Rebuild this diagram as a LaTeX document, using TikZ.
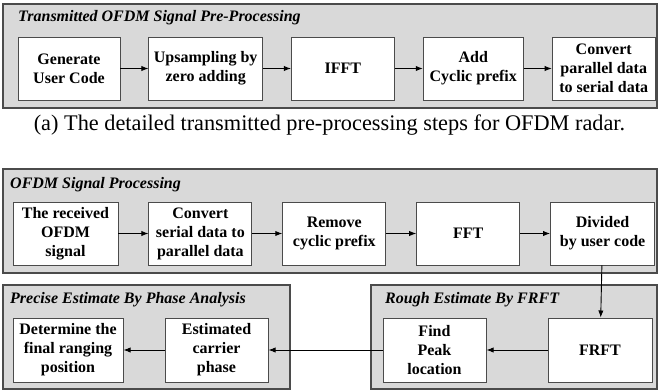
\documentclass[tikz,border=0pt]{standalone}
\usepackage{fontspec}
\setmainfont{Liberation Serif}
\usetikzlibrary{arrows.meta,positioning}
\definecolor{panelgray}{RGB}{217,217,217}
\definecolor{edgegray}{RGB}{75,75,75}

\begin{document}
\begin{tikzpicture}[x=1pt,y=-1pt,>=Latex,
  every node/.style={font=\fontsize{16}{19}\selectfont\bfseries},
  box/.style={draw=edgegray,line width=0.9pt,fill=white,align=center,
    minimum width=103pt,minimum height=63pt,inner xsep=5pt,inner ysep=2pt},
  panel/.style={draw=edgegray,line width=1.4pt,fill=panelgray},
  paneltitle/.style={anchor=west,inner sep=0pt,font=\fontsize{16}{19}\selectfont\bfseries\itshape},
  flow/.style={->,line width=0.9pt}]
\useasboundingbox (0,0) rectangle (659,391);

% panels
\path[panel] (3,4) rectangle (657,108);
\path[panel] (3,169) rectangle (657,273);
\path[panel] (3,285) rectangle (290,389);
\path[panel] (371,285) rectangle (657,389);

\node[paneltitle] (ttx) at (18,18) {Transmitted OFDM Signal Pre-Processing};
\node[paneltitle] (trx) at (10,185) {OFDM Signal Processing};
\node[paneltitle] (tpa) at (10,300) {Precise Estimate By Phase Analysis};
\node[paneltitle] (tfr) at (385,300) {Rough Estimate By FRFT};

% transmitter chain
\node[box,minimum width=102pt] (gen) at (69,68.5) {Generate\\User Code};
\node[box,right=28pt of gen] (ups) {Upsampling by\\zero adding};
\node[box,right=28pt of ups] (ifft) {IFFT};
\node[box,right=28pt of ifft,minimum width=100pt] (cp) {Add\\Cyclic prefix};
\node[box,right=28pt of cp] (ps) {Convert\\parallel data\\to serial data};
\draw[flow] (gen) -- (ups);
\draw[flow] (ups) -- (ifft);
\draw[flow] (ifft) -- (cp);
\draw[flow] (cp) -- (ps);

\node[font=\fontsize{22.3}{25}\selectfont\normalfont] (cap) at (329.5,125.5)
  {(a) The detailed transmitted pre-processing steps for OFDM radar.};

% receiver chain
\node[box,minimum width=105pt] (rec) at (65.5,233.5) {The received\\OFDM\\signal};
\node[box,right=30pt of rec] (sp) {Convert\\serial data to\\parallel data};
\node[box,right=30pt of sp] (rcp) {Remove\\cyclic prefix};
\node[box,right=30pt of rcp] (fft) {FFT};
\node[box,right=30pt of fft,minimum width=104pt] (div) {Divided\\by user code};
\draw[flow] (rec) -- (sp);
\draw[flow] (sp) -- (rcp);
\draw[flow] (rcp) -- (fft);
\draw[flow] (fft) -- (div);

% estimation
\node[box,minimum width=104pt,minimum height=64pt] (frft) at (600,350) {FRFT};
\node[box,minimum height=64pt] (peak) at (434.5,350) {Find\\Peak\\location};
\node[box,minimum height=64pt] (phase) at (216.5,350) {Estimated\\carrier\\phase};
\node[box,minimum width=110pt,minimum height=64pt] (rng) at (68,350) {Determine the\\final ranging\\position};
\draw[flow] (div) -- (frft);
\draw[flow] (frft) -- (peak);
\draw[flow] (peak) -- (phase);
\draw[flow] (phase) -- (rng);
\end{tikzpicture}
\end{document}
